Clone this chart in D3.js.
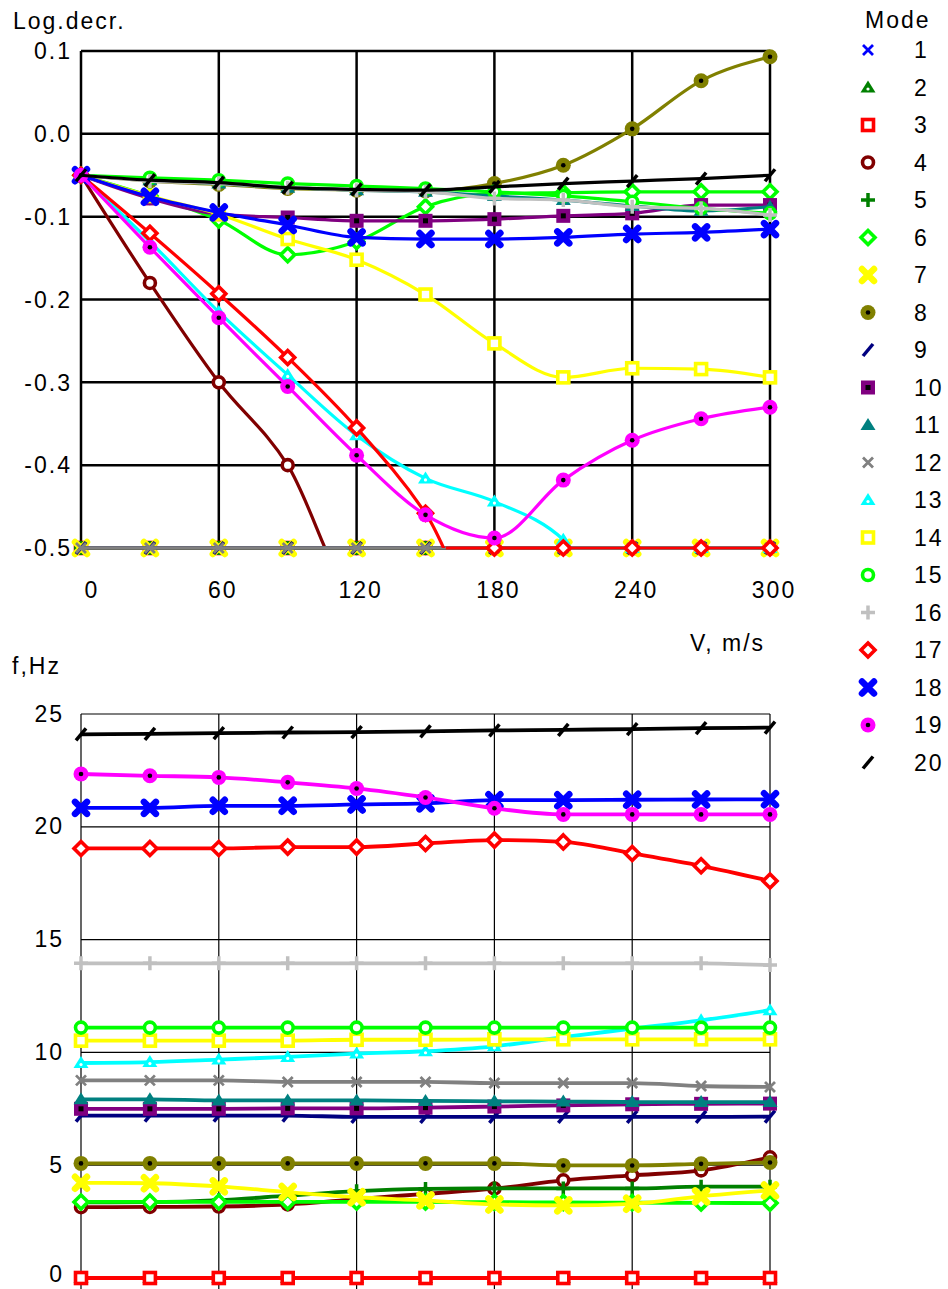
<!DOCTYPE html>
<html>
<head>
<meta charset="utf-8">
<script src="https://cdn.jsdelivr.net/npm/d3@7"></script>
<style>
  body { margin: 0; background: #fff; }
  svg text { font-family: "Liberation Sans", Arial, sans-serif; font-size: 23px; letter-spacing: 2px; fill: #000; }
</style>
</head>
<body>
<div id="chart"></div>
<script>
// flow speed, m/s
const speeds = [0, 30, 60, 90, 120, 150, 180, 210, 240, 270, 300];
const modeNames = ["1","2","3","4","5","6","7","8","9","10","11","12","13","14","15","16","17","18","19","20"];
const modeColors = ["#0000ff","#008000","#ff0000","#800000","#008000","#00ff00","#ffff00","#808000","#000080","#800080",
                    "#008080","#808080","#00ffff","#ffff00","#00ff00","#c0c0c0","#ff0000","#0000ff","#ff00ff","#000000"];
const modeMarkers = ["x","triDot","sqOpen","circOpen","plus","diaOpen","bigX","circDot","slash","sqDot",
                     "tri","x","triDot","sqOpen","circOpen","plus","diaOpen","bigX","circDot","slash"];

const decrTicks = [0.1, 0.0, -0.1, -0.2, -0.3, -0.4, -0.5];
const decrTickLabels = ["0.1", "0.0", "-0.1", "-0.2", "-0.3", "-0.4", "-0.5"];
const speedTicks = [0, 60, 120, 180, 240, 300];
const freqTicks = [0, 5, 10, 15, 20, 25];

// logarithmic decrement per mode (values under -0.5 are drawn on the floor)
const decrement = [
  [-0.5, -0.5, -0.5, -0.5, -0.5, -0.5, -0.5, -0.5, -0.5, -0.5, -0.5],                 // 1
  [-0.5, -0.5, -0.5, -0.5, -0.5, -0.5, -0.5, -0.5, -0.5, -0.5, -0.5],                 // 2
  [-0.5, -0.5, -0.5, -0.5, -0.5, -0.5, -0.5, -0.5, -0.5, -0.5, -0.5],                 // 3
  [-0.05, -0.18, -0.30, -0.40, -0.567, -0.6, -0.6, -0.6, -0.6, -0.6, -0.6],           // 4
  [-0.5, -0.5, -0.5, -0.5, -0.5, -0.5, -0.5, -0.5, -0.5, -0.5, -0.5],                 // 5
  [-0.05, -0.075, -0.104, -0.146, -0.13, -0.088, -0.072, -0.071, -0.07, -0.07, -0.07], // 6
  [-0.5, -0.5, -0.5, -0.5, -0.5, -0.5, -0.5, -0.5, -0.5, -0.5, -0.5],                 // 7
  [-0.05, -0.057, -0.061, -0.066, -0.068, -0.069, -0.06, -0.038, 0.006, 0.064, 0.093], // 8
  [-0.5, -0.5, -0.5, -0.5, -0.5, -0.5, -0.5, -0.5, -0.5, -0.5, -0.5],                 // 9
  [-0.05, -0.078, -0.097, -0.101, -0.105, -0.105, -0.103, -0.099, -0.096, -0.086, -0.086], // 10
  [-0.05, -0.056, -0.06, -0.065, -0.068, -0.07, -0.075, -0.08, -0.087, -0.093, -0.088], // 11
  [-0.5, -0.5, -0.5, -0.5, -0.5, -0.5, -0.5, -0.5, -0.5, -0.5, -0.5],                 // 12
  [-0.05, -0.13, -0.215, -0.291, -0.364, -0.416, -0.444, -0.49, -0.6, -0.6, -0.6],    // 13
  [-0.05, -0.075, -0.097, -0.127, -0.152, -0.194, -0.253, -0.294, -0.283, -0.284, -0.294], // 14
  [-0.05, -0.053, -0.056, -0.06, -0.063, -0.066, -0.07, -0.075, -0.082, -0.09, -0.096], // 15
  [-0.05, -0.057, -0.06, -0.065, -0.068, -0.07, -0.078, -0.08, -0.088, -0.09, -0.098], // 16
  [-0.05, -0.12, -0.193, -0.27, -0.355, -0.458, -0.6, -0.6, -0.6, -0.6, -0.6],        // 17
  [-0.05, -0.076, -0.095, -0.11, -0.125, -0.127, -0.127, -0.125, -0.121, -0.119, -0.115], // 18
  [-0.05, -0.137, -0.222, -0.305, -0.388, -0.46, -0.488, -0.418, -0.37, -0.344, -0.33], // 19
  [-0.05, -0.056, -0.059, -0.065, -0.067, -0.068, -0.064, -0.06, -0.057, -0.054, -0.05] // 20
];

// natural frequency per mode, Hz
const frequency = [
  [0, 0, 0, 0, 0, 0, 0, 0, 0, 0, 0],                                                  // 1
  [0, 0, 0, 0, 0, 0, 0, 0, 0, 0, 0],                                                  // 2
  [0, 0, 0, 0, 0, 0, 0, 0, 0, 0, 0],                                                  // 3
  [3.14, 3.15, 3.17, 3.26, 3.5, 3.73, 3.96, 4.33, 4.55, 4.77, 5.35],                  // 4
  [3.35, 3.36, 3.45, 3.65, 3.85, 3.95, 3.97, 3.97, 3.97, 4.05, 4.05],                 // 5
  [3.37, 3.37, 3.37, 3.37, 3.37, 3.37, 3.36, 3.35, 3.34, 3.33, 3.32],                 // 6
  [4.22, 4.2, 4.06, 3.81, 3.58, 3.44, 3.26, 3.22, 3.29, 3.62, 3.88],                  // 7
  [5.08, 5.08, 5.08, 5.08, 5.08, 5.08, 5.08, 4.99, 4.99, 5.06, 5.12],                 // 8
  [7.2, 7.2, 7.2, 7.2, 7.14, 7.14, 7.14, 7.14, 7.14, 7.14, 7.15],                     // 9
  [7.5, 7.5, 7.5, 7.52, 7.52, 7.55, 7.6, 7.65, 7.7, 7.72, 7.73],                      // 10
  [7.92, 7.92, 7.87, 7.87, 7.87, 7.85, 7.83, 7.82, 7.8, 7.8, 7.8],                    // 11
  [8.76, 8.76, 8.76, 8.69, 8.69, 8.69, 8.64, 8.64, 8.64, 8.51, 8.47],                 // 12
  [9.53, 9.57, 9.68, 9.8, 9.95, 10.05, 10.27, 10.68, 11.05, 11.42, 11.87],            // 13
  [10.52, 10.52, 10.52, 10.52, 10.56, 10.56, 10.58, 10.58, 10.58, 10.58, 10.58],      // 14
  [11.1, 11.1, 11.1, 11.1, 11.1, 11.1, 11.1, 11.1, 11.1, 11.1, 11.1],                 // 15
  [13.95, 13.95, 13.95, 13.95, 13.95, 13.95, 13.95, 13.95, 13.95, 13.95, 13.87],      // 16
  [19.04, 19.04, 19.04, 19.1, 19.1, 19.26, 19.41, 19.33, 18.82, 18.27, 17.6],         // 17
  [20.84, 20.84, 20.93, 20.93, 20.99, 21.04, 21.18, 21.18, 21.2, 21.21, 21.22],       // 18
  [22.34, 22.26, 22.19, 21.97, 21.7, 21.3, 20.82, 20.55, 20.55, 20.55, 20.55],        // 19
  [24.1, 24.12, 24.15, 24.18, 24.2, 24.23, 24.27, 24.3, 24.33, 24.37, 24.4]           // 20
];

const width = 948, height = 1289;
const floorVal = -0.5;

const svg = d3.select("#chart").append("svg")
  .attr("width", width).attr("height", height);
svg.append("rect").attr("width", width).attr("height", height).attr("fill", "#fff");

const x = d3.scaleLinear().domain([0, 300]).range([81, 770]);
const yTop = d3.scaleLinear().domain([-0.5, 0.1]).range([548, 51]);
const yBot = d3.scaleLinear().domain([0, 25]).range([1278, 714]);

// clip for the top panel: nothing is drawn under the -0.5 floor
svg.append("clipPath").attr("id", "topClip")
  .append("rect").attr("x", 0).attr("y", 0).attr("width", width).attr("height", yTop(floorVal));

// ---------- top panel grid ----------
const topGrid = svg.append("g");
topGrid.selectAll("line.h").data(decrTicks).enter().append("line")
  .attr("x1", x(0)).attr("x2", x(300))
  .attr("y1", d => yTop(d)).attr("y2", d => yTop(d))
  .attr("stroke", "#000").attr("stroke-width", 2.5);
topGrid.selectAll("line.v").data(speedTicks).enter().append("line")
  .attr("x1", d => x(d)).attr("x2", d => x(d))
  .attr("y1", yTop(0.1)).attr("y2", yTop(-0.5))
  .attr("stroke", "#000").attr("stroke-width", 2.5);

svg.append("g").selectAll("text").data(decrTicks).enter().append("text")
  .attr("x", 72).attr("y", d => yTop(d)).attr("dy", "0.36em")
  .attr("text-anchor", "end")
  .text((d, i) => decrTickLabels[i]);

svg.append("g").selectAll("text").data(speedTicks).enter().append("text")
  .attr("x", d => x(d) + (d === 0 ? 11 : 4)).attr("y", 590).attr("dy", "0.36em")
  .attr("text-anchor", "middle")
  .text(d => d);

svg.append("text").attr("x", 13).attr("y", 21).attr("dy", "0.36em").text("Log.decr.");
svg.append("text").attr("x", 690).attr("y", 643).attr("dy", "0.36em").text("V, m/s");
svg.append("text").attr("x", 12).attr("y", 666).attr("dy", "0.36em").text("f,Hz");

// ---------- bottom panel grid ----------
const botGrid = svg.append("g");
botGrid.selectAll("line.h").data(freqTicks).enter().append("line")
  .attr("x1", x(0)).attr("x2", x(300))
  .attr("y1", d => yBot(d)).attr("y2", d => yBot(d))
  .attr("stroke", "#000").attr("stroke-width", 1.2);
botGrid.selectAll("line.v").data(speedTicks).enter().append("line")
  .attr("x1", d => x(d)).attr("x2", d => x(d))
  .attr("y1", yBot(25)).attr("y2", height)
  .attr("stroke", "#000").attr("stroke-width", 1.2);

svg.append("g").selectAll("text").data(freqTicks).enter().append("text")
  .attr("x", 64).attr("y", d => yBot(d) - (d === 0 ? 4 : 0)).attr("dy", "0.33em")
  .attr("text-anchor", "end")
  .text(d => d);

// ---------- markers ----------
function drawMarker(g, shape, color) {
  const w = 3.6;
  switch (shape) {
    case "x":
      g.append("path").attr("d", "M-5,-5L5,5M-5,5L5,-5")
        .attr("stroke", color).attr("stroke-width", 2.8).attr("fill", "none");
      break;
    case "bigX":
      g.append("path").attr("d", "M-6,-6L6,6M-6,6L6,-6")
        .attr("stroke", color).attr("stroke-width", 6.5).attr("stroke-linecap", "round").attr("fill", "none");
      break;
    case "tri":
    case "triDot":
      g.append("path").attr("d", "M0,-7L7.5,5L-7.5,5Z").attr("fill", color);
      if (shape === "triDot") g.append("circle").attr("cy", 1.5).attr("r", 1.6).attr("fill", "#fff");
      break;
    case "sqOpen":
      g.append("rect").attr("x", -5.5).attr("y", -5.5).attr("width", 11).attr("height", 11)
        .attr("fill", "#fff").attr("stroke", color).attr("stroke-width", w);
      break;
    case "sqDot":
      g.append("rect").attr("x", -7).attr("y", -7).attr("width", 14).attr("height", 14).attr("fill", color);
      g.append("rect").attr("x", -2.5).attr("y", -2.5).attr("width", 5).attr("height", 5).attr("fill", "#000");
      break;
    case "circOpen":
      g.append("circle").attr("r", 5.5).attr("fill", "#fff").attr("stroke", color).attr("stroke-width", w);
      break;
    case "circDot":
      g.append("circle").attr("r", 7.5).attr("fill", color);
      g.append("circle").attr("r", 2.3).attr("fill", "#000");
      break;
    case "plus":
      g.append("path").attr("d", "M-7,0L7,0M0,-7L0,7")
        .attr("stroke", color).attr("stroke-width", 3.5).attr("fill", "none");
      break;
    case "diaOpen":
      g.append("path").attr("d", "M0,-7L7,0L0,7L-7,0Z")
        .attr("fill", "#fff").attr("stroke", color).attr("stroke-width", w);
      break;
    case "slash":
      g.append("path").attr("d", "M-5,6L5,-6")
        .attr("stroke", color).attr("stroke-width", 3.5).attr("fill", "none");
      break;
  }
}

// runs [x0, x1] of speed where a series lies under the floor (linear crossings)
function floorRuns(vals) {
  const runs = [];
  let start = null;
  vals.forEach((v, i) => {
    if (i > 0) {
      const p = vals[i - 1];
      if ((p > floorVal) !== (v > floorVal) && p !== v) {
        const t = (floorVal - p) / (v - p);
        const xc = speeds[i - 1] + t * (speeds[i] - speeds[i - 1]);
        if (v <= floorVal) start = xc;
        else if (start !== null) { runs.push([start, xc]); start = null; }
      }
    } else if (v <= floorVal) {
      start = speeds[0];
    }
  });
  if (start !== null) runs.push([start, speeds[speeds.length - 1]]);
  return runs;
}

const lineTop = d3.line().x(d => x(d[0])).y(d => yTop(d[1])).curve(d3.curveMonotoneX);
const lineBot = d3.line().x(d => x(d[0])).y(d => yBot(d[1])).curve(d3.curveMonotoneX);

// ---------- series, drawn in mode order ----------
const topLayer = svg.append("g");
const botLayer = svg.append("g");

modeNames.forEach((name, m) => {
  const color = modeColors[m];
  const gt = topLayer.append("g");
  gt.append("path").attr("d", lineTop(decrement[m].map((v, i) => [speeds[i], v])))
    .attr("clip-path", "url(#topClip)")
    .attr("fill", "none").attr("stroke", color).attr("stroke-width", 3.2).attr("stroke-linejoin", "round");
  floorRuns(decrement[m]).forEach(r => {
    gt.append("line")
      .attr("x1", x(r[0])).attr("x2", x(r[1]))
      .attr("y1", yTop(floorVal)).attr("y2", yTop(floorVal))
      .attr("stroke", color).attr("stroke-width", 3.2);
  });
  decrement[m].forEach((v, i) => {
    const mk = gt.append("g").attr("transform", `translate(${x(speeds[i])},${yTop(Math.max(v, floorVal))})`);
    drawMarker(mk, modeMarkers[m], color);
  });

  const gb = botLayer.append("g");
  gb.append("path").attr("d", lineBot(frequency[m].map((v, i) => [speeds[i], v])))
    .attr("fill", "none").attr("stroke", color).attr("stroke-width", 3.8).attr("stroke-linejoin", "round");
  frequency[m].forEach((v, i) => {
    const mk = gb.append("g").attr("transform", `translate(${x(speeds[i])},${yBot(v)})`);
    drawMarker(mk, modeMarkers[m], color);
  });
});

// ---------- legend ----------
const legend = svg.append("g");
legend.append("text").attr("x", 865).attr("y", 20).attr("dy", "0.36em").text("Mode");
modeNames.forEach((name, m) => {
  const ly = 50 + m * 37.5;
  drawMarker(legend.append("g").attr("transform", `translate(868,${ly})`), modeMarkers[m], modeColors[m]);
  legend.append("text").attr("x", 914).attr("y", ly).attr("dy", "0.36em").text(name);
});
</script>
</body>
</html>
